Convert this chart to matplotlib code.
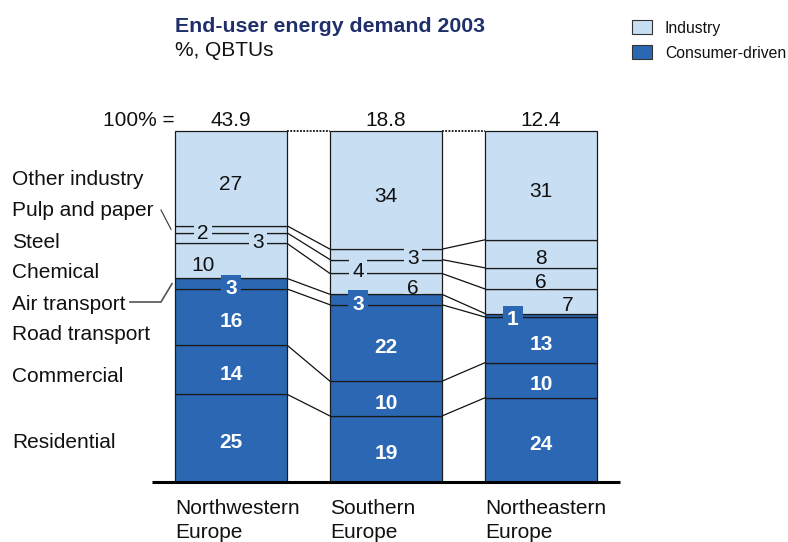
import matplotlib
matplotlib.use("Agg")
import matplotlib.pyplot as plt
import numpy as np
from matplotlib.patches import Rectangle

plt.rcParams['font.family'] = ['Liberation Sans', 'DejaVu Sans']

# ---------------- data ----------------
regions = ["Northwestern\nEurope", "Southern\nEurope", "Northeastern\nEurope"]
totals = ["43.9", "18.8", "12.4"]
segments = ["Residential", "Commercial", "Road transport", "Air transport",
            "Chemical", "Steel", "Pulp and paper", "Other industry"]
groups = ["Consumer-driven"] * 4 + ["Industry"] * 4
nw_values = [25, 14, 16, 3, 10, 3, 2, 27]
south_values = [19, 10, 22, 3, 6, 4, 3, 34]
ne_values = [24, 10, 13, 1, 7, 6, 8, 31]
series = [nw_values, south_values, ne_values]

# ---------------- style ----------------
LIGHT = "#c8dff3"
DARK = "#2b67b3"
NAVY = "#1f2f6b"
color_of = {"Industry": LIGHT, "Consumer-driven": DARK}
FS = 15

# pixel-based layout helpers
W, H = 788, 542
X0, XS = 231.0, 155.0      # centre of first bar, spacing in px
Y0, YS = 482.0, 3.51       # baseline px, px per percent
BW = 112.0 / XS
TXT_DY = -4.5 / YS         # visual centring of digits

fig = plt.figure(figsize=(W / 100, H / 100), dpi=100)
ax = fig.add_axes([0, 0, 1, 1])
ax.set_xlim((0 - X0) / XS, (W - X0) / XS)
ax.set_ylim((Y0 - H) / YS, (Y0 - 0) / YS)
ax.axis("off")


def px(x):
    return x / XS


def py(y):
    return y / YS


def fx(x):
    return x / W


def fy(y):
    return 1 - y / H


# label horizontal offsets (px) for the small segments: index -> dx
label_dx = [
    {6: -28, 5: 27, 4: -28, 3: 0},
    {6: 27, 5: -28, 4: 27, 3: -28},
    {6: 0, 5: 0, 4: 27, 3: -28},
]

cums = []
for i, vals in enumerate(series):
    v = np.array(vals, dtype=float)
    v = v / v.sum() * 100
    bottoms = np.concatenate([[0], np.cumsum(v)[:-1]])
    cums.append(np.concatenate([[0], np.cumsum(v)]))
    ax.bar(i, v, bottom=bottoms, width=BW,
           color=[color_of[g] for g in groups],
           edgecolor="#1a1a1a", linewidth=0.9, zorder=2)
    for k, (val, b, h) in enumerate(zip(vals, bottoms, v)):
        seg_mid = b + h / 2
        mid = seg_mid + TXT_DY
        dx = px(label_dx[i].get(k, 0))
        if groups[k] == "Consumer-driven":
            if k == 3:
                ax.text(i + dx, mid, str(val), ha="center", va="center",
                        fontsize=FS, fontweight="bold", color="white", zorder=6,
                        bbox=dict(boxstyle="square,pad=0.2", fc=DARK, ec="none"))
            else:
                ax.text(i + dx, mid, str(val), ha="center", va="center",
                        fontsize=FS, fontweight="bold", color="white", zorder=6)
        else:
            if k == 7:
                ax.text(i, mid - 0.5, str(val), ha="center", va="center",
                        fontsize=FS, color="#111111", zorder=6)
            else:
                wpx = len(str(val)) * 11.6 + 7
                hpx = 19
                cy = seg_mid - py(1.0)
                ax.add_patch(Rectangle((i + dx - px(wpx / 2), cy - py(hpx / 2)),
                                       px(wpx), py(hpx), fc=LIGHT, ec="none",
                                       zorder=5))
                ax.text(i + dx, mid, str(val), ha="center", va="center",
                        fontsize=FS, color="#111111", zorder=6)
    ax.text(i, (Y0 - 121) / YS, totals[i], ha="center", va="center",
            fontsize=FS, color="#111111")
    ax.text(i - BW / 2, (Y0 - 499) / YS, regions[i], ha="left", va="top",
            fontsize=FS, color="#111111", linespacing=1.32)

# connectors between bars
for i in range(len(series) - 1):
    xa = i + BW / 2
    xb = i + 1 - BW / 2
    for k in range(1, len(segments)):
        ax.plot([xa, xb], [cums[i][k], cums[i + 1][k]], color="#111111",
                lw=0.9, zorder=1)
    ax.plot([xa, xb], [100, 100], color="#111111", lw=1.3,
            ls=(0, (1, 0.8)), zorder=1)

# baseline
ax.plot([px(152 - X0), px(620 - X0)], [0, 0], color="black", lw=2.2, zorder=3,
        solid_capstyle="butt")

# "100% ="
ax.text(px(175 - X0), (Y0 - 121) / YS, "100% =", ha="right", va="center",
        fontsize=FS, color="#111111")

# left category labels
left_y = {"Other industry": 180, "Pulp and paper": 211, "Steel": 242,
          "Chemical": 273, "Air transport": 304, "Road transport": 335,
          "Commercial": 377, "Residential": 443}
for name in segments[::-1]:
    fig.text(fx(12), fy(left_y[name]), name, ha="left", va="center",
             fontsize=FS, color="#111111")

# leader lines
left_edge = -BW / 2
nwc = cums[0]
pulp_mid = (nwc[6] + nwc[7]) / 2
air_mid = (nwc[3] + nwc[4]) / 2
ax.plot([left_edge - px(14), left_edge - px(4)],
        [(Y0 - 210) / YS, pulp_mid], color="#333333", lw=0.8)
ax.plot([left_edge - px(45), left_edge - px(14), left_edge - px(3)],
        [(Y0 - 302) / YS, (Y0 - 302) / YS, air_mid], color="#555555", lw=1.2)

# title
fig.text(fx(175), fy(26), "End-user energy demand 2003", ha="left", va="center",
         fontsize=15.3, fontweight="bold", color=NAVY)
fig.text(fx(175), fy(51), "%, QBTUs", ha="left", va="center",
         fontsize=FS, color="#111111")

# legend
for j, (lab, col) in enumerate([("Industry", LIGHT), ("Consumer-driven", DARK)]):
    yc = 27 + j * 25
    fig.patches.append(Rectangle((fx(632), fy(yc + 7)), 20 / W, 14 / H,
                                 transform=fig.transFigure, fc=col,
                                 ec="#333333", lw=0.8))
    fig.text(fx(665), fy(yc + 1), lab, ha="left", va="center", fontsize=11.3,
             color="#111111")

fig.savefig("out.png", dpi=100)
